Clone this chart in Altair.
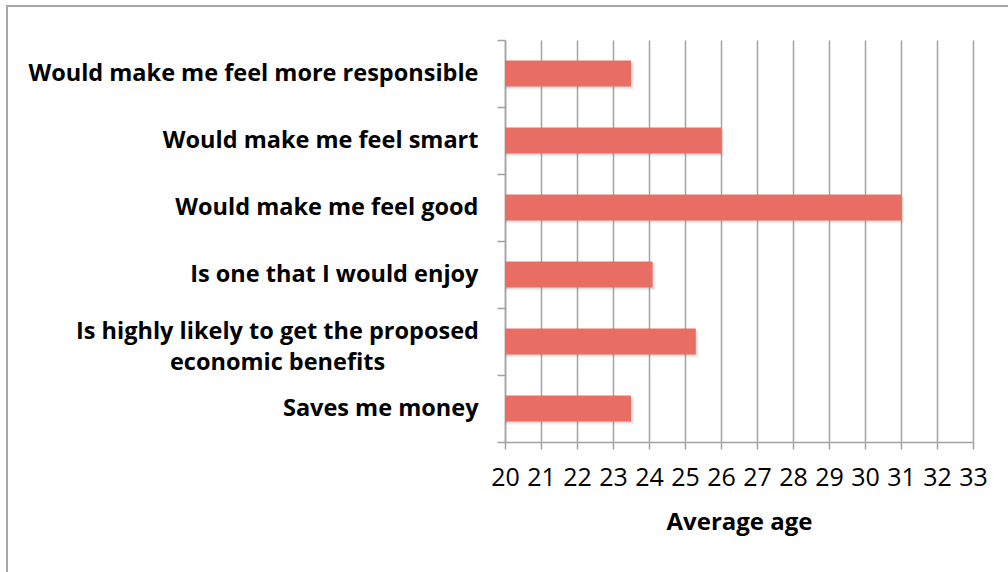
import altair as alt
import pandas as pd

categories = [
    "Would make me feel more responsible",
    "Would make me feel smart",
    "Would make me feel good",
    "Is one that I would enjoy",
    "Is highly likely to get the proposed economic benefits",
    "Saves me money",
]
values = [23.5, 26.0, 31.0, 24.1, 25.3, 23.5]
x_ticks = list(range(20, 34))

df = pd.DataFrame({"label": categories, "age": values})

wrapped = categories[4]
test = f"datum.value == '{wrapped}'"
label_expr = (
    f"{test} ? ['Is highly likely to get the proposed', 'economic benefits'] : datum.value"
)

FONT = "Open Sans"
GRID = "#a3a3a3"

y_axis = alt.Axis(
    labelExpr=label_expr,
    labelFont=FONT,
    labelFontSize=23.5,
    labelFontWeight="bold",
    labelColor="#000000",
    labelPadding={"condition": {"test": test, "value": 220}, "value": 19},
    labelAlign={"condition": {"test": test, "value": "center"}, "value": "right"},
    labelOffset={"condition": {"test": test, "value": -10.5}, "value": 0},
    labelLineHeight=31,
    labelLimit=600,
    labelOverlap=False,
    tickSize=8,
    tickColor=GRID,
    tickWidth=1.5,
    tickBand="extent",
    domainColor=GRID,
    domainWidth=1.5,
    grid=False,
)

x_axis = alt.Axis(
    values=x_ticks,
    title="Average age",
    titleFont=FONT,
    titleFontSize=24,
    titleFontWeight="bold",
    titleColor="#000000",
    titlePadding=20,
    labelFont=FONT,
    labelFontSize=25,
    labelColor="#000000",
    labelPadding=16,
    labelFlush=False,
    labelOverlap=False,
    tickSize=7,
    tickColor=GRID,
    tickWidth=1.5,
    domainColor=GRID,
    domainWidth=1.5,
    grid=True,
    gridColor=GRID,
    gridWidth=1.5,
)

x_scale = alt.Scale(domain=[20, 33], nice=False, zero=False)
y_scale = alt.Scale(paddingInner=0, paddingOuter=0)
BAR_H = {"band": 0.39}


def enc(chart):
    return chart.encode(
        x=alt.X("age:Q", scale=x_scale, axis=x_axis),
        x2=alt.datum(20),
        y=alt.Y("label:N", sort=categories, title=None, scale=y_scale, axis=y_axis),
    )


base = alt.Chart(df)
shadow1 = enc(base.mark_bar(color="#7a7a7a", opacity=0.12, xOffset=3, yOffset=3, height=BAR_H))
shadow2 = enc(base.mark_bar(color="#7a7a7a", opacity=0.15, xOffset=1.5, yOffset=1.5, height=BAR_H))
bars = enc(base.mark_bar(color="#e86e64", height=BAR_H))

border = alt.Chart(alt.Data(values=[{}])).mark_rect(
    fill="transparent", stroke="#a6a6a6", strokeWidth=2
).encode(
    x=alt.value(-498),
    x2=alt.value(560),
    y=alt.value(-34),
    y2=alt.value(600),
)

chart = (
    alt.layer(border, shadow1, shadow2, bars)
    .properties(
        width=468,
        height=402,
        autosize=alt.AutoSizeParams(type="none"),
        padding={"left": 505, "top": 40, "right": 35, "bottom": 130},
        background="#ffffff",
    )
    .configure_view(strokeWidth=0)
)

chart.save("out.html", embed_options={"renderer": "svg", "actions": False})
